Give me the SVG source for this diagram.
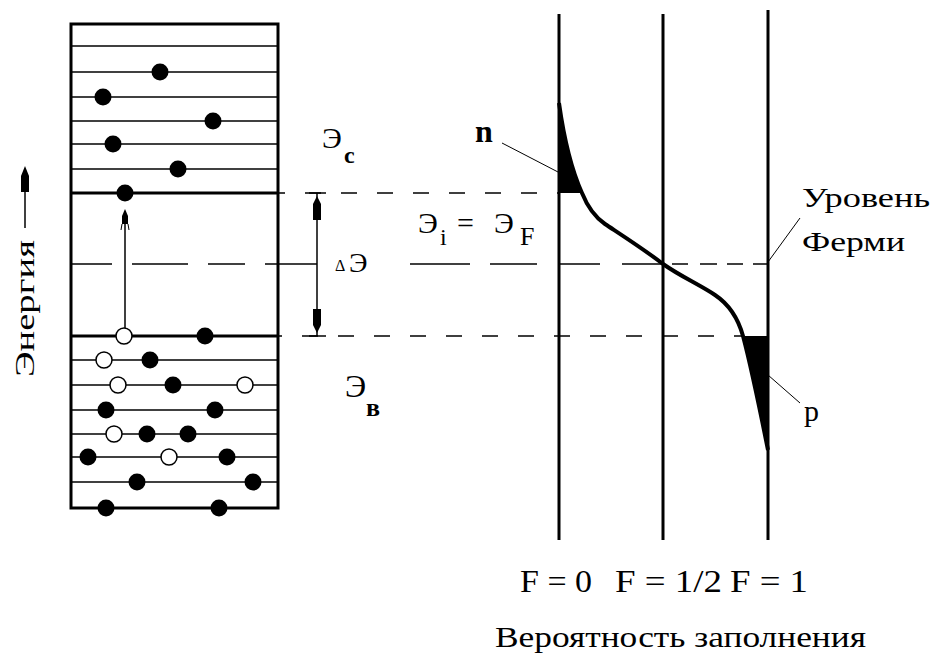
<svg xmlns="http://www.w3.org/2000/svg" width="936" height="653" viewBox="0 0 936 653">
<style>
.t{font-family:"Liberation Serif","DejaVu Serif","Times New Roman",serif;fill:#000}
.b{font-weight:bold}
.thin{stroke:#000;stroke-width:1.5;fill:none}
.thick{stroke:#000;stroke-width:3;fill:none}
.hair{stroke:#000;stroke-width:1;fill:none}
.dash{stroke:#000;stroke-width:1.5;fill:none;stroke-dasharray:16 20}
.e{fill:#000}
.h{fill:#fff;stroke:#000;stroke-width:1.5}
</style>
<rect width="936" height="653" fill="#fff"/>

<g id="band-diagram">
  <rect x="71" y="24" width="207" height="484" class="thick"/>
  <g class="thin">
    <line x1="71" y1="46" x2="278" y2="46"/>
    <line x1="71" y1="72" x2="278" y2="72"/>
    <line x1="71" y1="97" x2="278" y2="97"/>
    <line x1="71" y1="121" x2="278" y2="121"/>
    <line x1="71" y1="144" x2="278" y2="144"/>
    <line x1="71" y1="169" x2="278" y2="169"/>
    <line x1="71" y1="360" x2="278" y2="360"/>
    <line x1="71" y1="385" x2="278" y2="385"/>
    <line x1="71" y1="410" x2="278" y2="410"/>
    <line x1="71" y1="434" x2="278" y2="434"/>
    <line x1="71" y1="457" x2="278" y2="457"/>
    <line x1="71" y1="482" x2="278" y2="482"/>
  </g>
  <line x1="71" y1="193" x2="278" y2="193" class="thick"/>
  <line x1="71" y1="336" x2="278" y2="336" class="thick"/>
  <g class="thin">
    <line x1="71" y1="264" x2="112" y2="264"/>
    <line x1="132" y1="264" x2="188" y2="264"/>
    <line x1="208" y1="264" x2="245" y2="264"/>
    <line x1="265" y1="264" x2="317" y2="264"/>
  </g>
  <line x1="125" y1="328" x2="125" y2="212" class="thin"/>
  <polygon points="125,209 122,216 122,224 128,224 128,216" class="e"/>
  <path d="M121,230 L122,224 M129,230 L128,224" class="hair"/>
  <g class="e">
    <circle cx="160" cy="72" r="8.5"/>
    <circle cx="103" cy="97" r="8.5"/>
    <circle cx="213" cy="121" r="8.5"/>
    <circle cx="113" cy="144" r="8.5"/>
    <circle cx="178" cy="169" r="8.5"/>
    <circle cx="125" cy="193" r="8.5"/>
    <circle cx="205" cy="336" r="8.5"/>
    <circle cx="150" cy="360" r="8.5"/>
    <circle cx="173" cy="385" r="8.5"/>
    <circle cx="106" cy="410" r="8.5"/>
    <circle cx="215" cy="410" r="8.5"/>
    <circle cx="147" cy="434" r="8.5"/>
    <circle cx="188" cy="434" r="8.5"/>
    <circle cx="88" cy="457" r="8.5"/>
    <circle cx="227" cy="457" r="8.5"/>
    <circle cx="137" cy="482" r="8.5"/>
    <circle cx="253" cy="482" r="8.5"/>
    <circle cx="106" cy="508" r="8.5"/>
    <circle cx="219" cy="508" r="8.5"/>
  </g>
  <g class="h">
    <circle cx="124" cy="336" r="8"/>
    <circle cx="104" cy="360" r="8"/>
    <circle cx="118" cy="385" r="8"/>
    <circle cx="245" cy="385" r="8"/>
    <circle cx="114" cy="434" r="8"/>
    <circle cx="169" cy="457" r="8"/>
  </g>
</g>

<g id="energy-axis">
  <line x1="25" y1="228" x2="25" y2="176" class="thin"/>
  <polygon points="25,166 21,176 21,192 29,192 29,176" class="e"/>
  <text class="t" font-size="28" transform="translate(34,377) rotate(-90)" textLength="137" lengthAdjust="spacingAndGlyphs">Энергия</text>
</g>

<g id="connectors">
  <line x1="278" y1="193" x2="559" y2="193" class="dash" stroke-dashoffset="9"/>
  <line x1="278" y1="336" x2="743" y2="336" class="dash" stroke-dashoffset="12"/>
  <g class="thin">
    <line x1="410" y1="264" x2="470" y2="264"/>
    <line x1="490" y1="264" x2="537" y2="264"/>
    <line x1="560" y1="264" x2="600" y2="264"/>
    <line x1="622" y1="264" x2="663" y2="264"/>
    <line x1="672" y1="264" x2="688" y2="264"/>
    <line x1="700" y1="264" x2="717" y2="264"/>
    <line x1="727" y1="264" x2="743" y2="264"/>
    <line x1="753" y1="264" x2="768" y2="264"/>
  </g>
  <line x1="317" y1="193" x2="317" y2="336" class="thin"/>
  <line x1="309" y1="193" x2="326" y2="193" class="thin"/>
  <line x1="309" y1="336" x2="326" y2="336" class="thin"/>
  <polygon points="317,196 313,204 313,220 321,220 321,204" class="e"/>
  <polygon points="317,333 313,325 313,309 321,309 321,325" class="e"/>
  <line x1="502" y1="143" x2="558" y2="172" class="hair"/>
  <line x1="768" y1="262" x2="800" y2="218" class="hair"/>
  <line x1="768" y1="375" x2="800" y2="403" class="hair"/>
</g>

<g id="probability-plot">
  <line x1="559" y1="14" x2="559" y2="540" class="thick"/>
  <line x1="663" y1="14" x2="663" y2="540" class="thick"/>
  <line x1="768" y1="10" x2="768" y2="540" class="thick"/>
  <path d="M559,103 Q567,160 582,193 L559,193 Z" class="e"/>
  <path d="M743,336 C752,370 762,420 768,450 L768,336 Z" class="e"/>
  <path d="M559,103 Q567,160 582,193 C586,203 592,215 605,224 C620,234 645,250 663,264 C680,276 700,285 715,295 C730,305 738,318 743,336 C752,370 762,420 768,450" fill="none" stroke="#000" stroke-width="4"/>
</g>

<g id="labels">
  <text class="t" x="322" y="148" font-size="30">Э</text>
  <text class="t b" x="344" y="163" font-size="24">c</text>
  <text class="t" x="418" y="233" font-size="30">Э</text>
  <text class="t" x="440" y="245" font-size="24">i</text>
  <text class="t" x="457" y="233" font-size="30">=</text>
  <text class="t" x="494" y="233" font-size="30">Э</text>
  <text class="t" x="520" y="245" font-size="26">F</text>
  <text class="t" x="335" y="271" font-size="16">Δ</text>
  <text class="t" x="349" y="272" font-size="28">Э</text>
  <text class="t" x="345" y="397" font-size="32">Э</text>
  <text class="t b" x="366" y="416" font-size="26">в</text>
  <text class="t b" x="475" y="142" font-size="32">n</text>
  <text class="t" x="804" y="421" font-size="30">p</text>
  <text class="t" x="802" y="207" font-size="28" textLength="128" lengthAdjust="spacingAndGlyphs">Уровень</text>
  <text class="t" x="802" y="251" font-size="28" textLength="103" lengthAdjust="spacingAndGlyphs">Ферми</text>
  <text class="t" x="520" y="592" font-size="32" textLength="72" lengthAdjust="spacingAndGlyphs">F = 0</text>
  <text class="t" x="615" y="592" font-size="32" textLength="107" lengthAdjust="spacingAndGlyphs">F = 1/2</text>
  <text class="t" x="730" y="592" font-size="32" textLength="78" lengthAdjust="spacingAndGlyphs">F = 1</text>
  <text class="t" x="495" y="647" font-size="30" textLength="371" lengthAdjust="spacingAndGlyphs">Вероятность заполнения</text>
</g>
</svg>
